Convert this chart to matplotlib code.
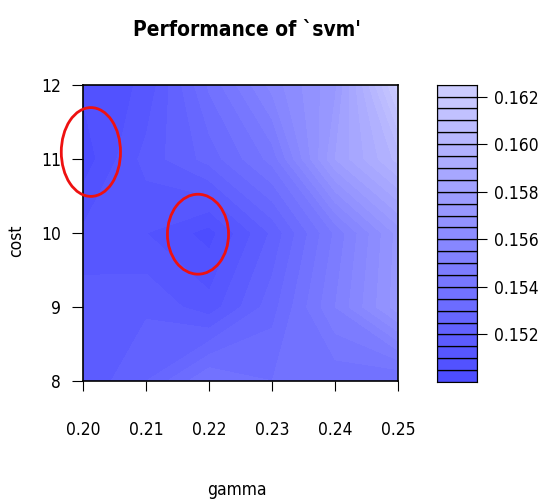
import numpy as np
import matplotlib
matplotlib.use("Agg")
import matplotlib.pyplot as plt
from matplotlib import font_manager
from matplotlib.patches import Ellipse

# the reference uses a narrow sans face; take a condensed one if present
narrow = None
for f in font_manager.fontManager.ttflist:
    if f.name == 'Liberation Sans Narrow':
        narrow = ('Liberation Sans Narrow', 'normal')
        break
    if f.name == 'DejaVu Sans' and 'condensed' in str(f.stretch):
        narrow = ('DejaVu Sans', 'condensed')
if narrow:
    plt.rcParams['font.family'] = [narrow[0], 'DejaVu Sans']
    plt.rcParams['font.stretch'] = narrow[1]
    lab_size = 12.5
else:
    plt.rcParams['font.family'] = ['Liberation Sans', 'DejaVu Sans']
    lab_size = 11.5

# tuning grid and estimated cross-validation error
gamma = [0.20, 0.21, 0.22, 0.23, 0.24, 0.25]
cost = [8, 9, 10, 11, 12]
error = [
    [0.1516, 0.1525, 0.1540, 0.1535, 0.1536, 0.1534],   # cost 8
    [0.1518, 0.1519, 0.1512, 0.1528, 0.1550, 0.1573],   # cost 9
    [0.1511, 0.1510, 0.1503, 0.1521, 0.1546, 0.1572],   # cost 10
    [0.1502, 0.1517, 0.1527, 0.1542, 0.1580, 0.1602],   # cost 11
    [0.1506, 0.1511, 0.1536, 0.1557, 0.1574, 0.1623],   # cost 12
]
levels = np.arange(0.1500, 0.16251, 0.0005)
cbar_ticks = [0.152, 0.154, 0.156, 0.158, 0.160, 0.162]

# highlighted spots (centre gamma, centre cost, width, height)
marks = [(0.2012, 11.095, 0.0094, 1.2), (0.2182, 9.984, 0.0097, 1.08)]

# hsv palette like e1071: saturation 0.7 -> 0.2
sat = np.linspace(0.7, 0.2, len(levels) - 1)
colors = [(1 - s, 1 - s, 1.0) for s in sat]

fig = plt.figure(figsize=(5.39, 5.04), dpi=100)
ax = fig.add_axes([0.1546, 0.244, 0.5844, 0.5873])
G, C = np.meshgrid(gamma, cost)
# drawn twice so the antialiasing seams between bands disappear
for _ in range(2):
    ax.contourf(G, C, np.array(error), levels=levels, colors=colors)
ax.set_xlim(0.20, 0.25)
ax.set_ylim(8, 12)
ax.set_xticks(gamma)
ax.set_xticklabels(["%.2f" % g for g in gamma])
ax.set_yticks(cost)
ax.tick_params(axis='x', length=7, pad=22, labelsize=lab_size)
ax.tick_params(axis='y', length=8, pad=8, labelsize=lab_size)
for sp in ax.spines.values():
    sp.set_linewidth(1.2)

for gx, cy, w, h in marks:
    ax.add_patch(Ellipse((gx, cy), w, h, fill=False, edgecolor='#ee1111',
                         linewidth=2.0, clip_on=False, zorder=5))

cax = fig.add_axes([0.8108, 0.242, 0.0742, 0.590])
cax.bar(0.5, np.diff(levels), width=1, bottom=levels[:-1], color=colors,
        edgecolor='black', linewidth=0.9)
cax.set_xlim(0, 1)
cax.set_ylim(levels[0], levels[-1])
cax.set_xticks([])
cax.yaxis.tick_right()
cax.set_yticks(cbar_ticks)
cax.set_yticklabels(["%.3f" % t for t in cbar_ticks])
cax.tick_params(axis='y', length=7, pad=5, labelsize=lab_size)

fig.text(0.458, 0.94, "Performance of `svm'", ha='center', va='center',
         fontsize=15, fontweight='bold')
fig.text(0.44, 0.028, "gamma", ha='center', va='center', fontsize=lab_size)
fig.text(0.03, 0.523, "cost", ha='center', va='center', rotation=90, fontsize=lab_size)

fig.savefig("out.png", dpi=100)
